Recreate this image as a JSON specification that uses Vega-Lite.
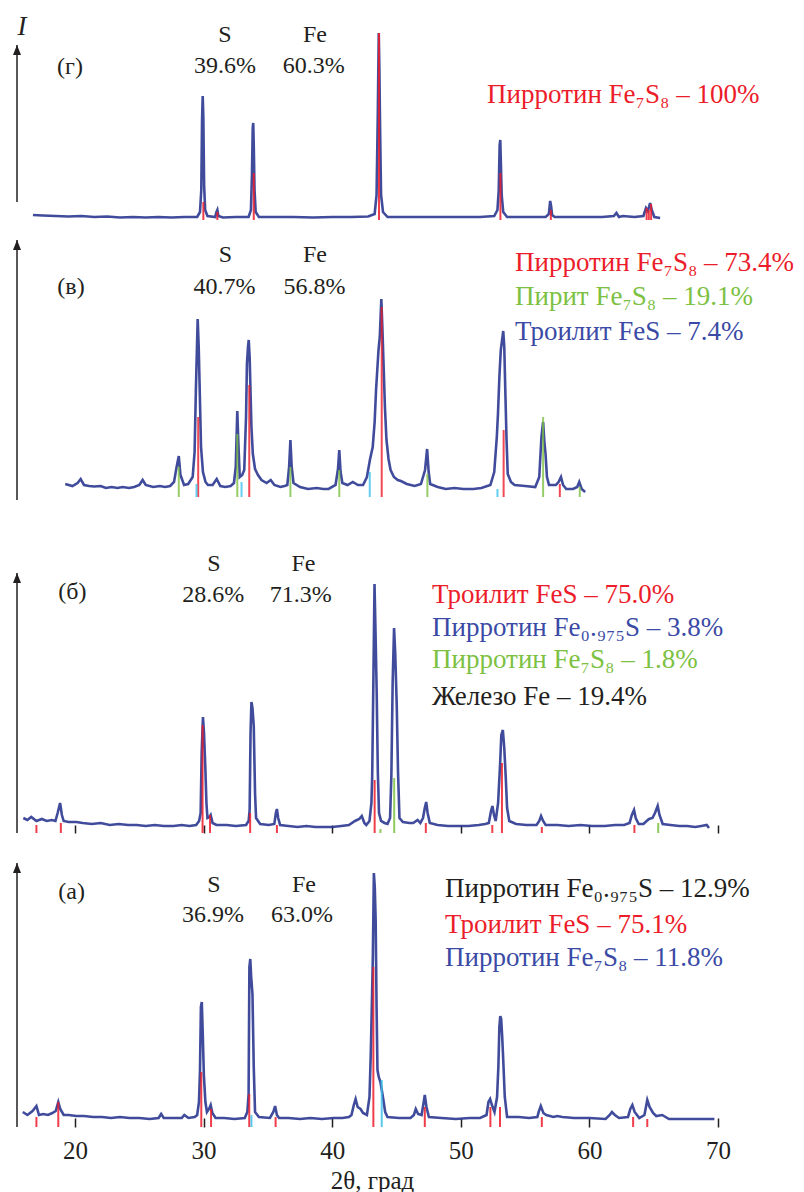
{
  "$schema": "https://vega.github.io/schema/vega-lite/v6.json",
  "padding": 0,
  "spacing": 0,
  "bounds": "flush",
  "config": {"view": {"stroke": null}},
  "datasets": {
    "curves": [
      {"p":"g","x":16.73,"y":5},{"p":"g","x":17.5,"y":4.5},{"p":"g","x":18.5,"y":4},{"p":"g","x":19.5,"y":3.5},{"p":"g","x":20.5,"y":4},{"p":"g","x":21.5,"y":3},{"p":"g","x":22.5,"y":3.5},{"p":"g","x":23.5,"y":2.5},{"p":"g","x":24.5,"y":3},{"p":"g","x":25.5,"y":2.5},{"p":"g","x":26.5,"y":3},{"p":"g","x":27.5,"y":2.5},{"p":"g","x":28.5,"y":3},{"p":"g","x":29.5,"y":3},{"p":"g","x":29.72,"y":8},{"p":"g","x":29.82,"y":30},{"p":"g","x":29.88,"y":100},{"p":"g","x":29.93,"y":124},{"p":"g","x":29.98,"y":103},{"p":"g","x":30.04,"y":35},{"p":"g","x":30.12,"y":10},{"p":"g","x":30.3,"y":4},{"p":"g","x":30.9,"y":3},{"p":"g","x":31.0,"y":8},{"p":"g","x":31.07,"y":10},{"p":"g","x":31.15,"y":4},{"p":"g","x":31.5,"y":2.5},{"p":"g","x":32.5,"y":3},{"p":"g","x":33.5,"y":3},{"p":"g","x":33.68,"y":10},{"p":"g","x":33.76,"y":45},{"p":"g","x":33.82,"y":92},{"p":"g","x":33.86,"y":97},{"p":"g","x":33.9,"y":75},{"p":"g","x":33.96,"y":30},{"p":"g","x":34.05,"y":8},{"p":"g","x":34.3,"y":3},{"p":"g","x":35.5,"y":3},{"p":"g","x":37,"y":3},{"p":"g","x":38.5,"y":2.5},{"p":"g","x":40,"y":3},{"p":"g","x":41.5,"y":3},{"p":"g","x":42.8,"y":3.5},{"p":"g","x":43.3,"y":6},{"p":"g","x":43.45,"y":25},{"p":"g","x":43.55,"y":110},{"p":"g","x":43.62,"y":187},{"p":"g","x":43.67,"y":150},{"p":"g","x":43.72,"y":95},{"p":"g","x":43.8,"y":25},{"p":"g","x":43.95,"y":8},{"p":"g","x":44.3,"y":3},{"p":"g","x":45.5,"y":3},{"p":"g","x":47,"y":3},{"p":"g","x":48.5,"y":3},{"p":"g","x":50,"y":3},{"p":"g","x":51.5,"y":3},{"p":"g","x":52.6,"y":4},{"p":"g","x":52.85,"y":10},{"p":"g","x":52.95,"y":30},{"p":"g","x":53.02,"y":75},{"p":"g","x":53.07,"y":80},{"p":"g","x":53.12,"y":55},{"p":"g","x":53.18,"y":25},{"p":"g","x":53.3,"y":8},{"p":"g","x":53.6,"y":3},{"p":"g","x":55,"y":3},{"p":"g","x":56.6,"y":3},{"p":"g","x":56.85,"y":6},{"p":"g","x":56.95,"y":19},{"p":"g","x":57.02,"y":14},{"p":"g","x":57.1,"y":5},{"p":"g","x":57.3,"y":3},{"p":"g","x":59,"y":3},{"p":"g","x":61,"y":3},{"p":"g","x":61.9,"y":4},{"p":"g","x":62.1,"y":7},{"p":"g","x":62.3,"y":3},{"p":"g","x":62.6,"y":4},{"p":"g","x":63.5,"y":3},{"p":"g","x":64.2,"y":4},{"p":"g","x":64.4,"y":12},{"p":"g","x":64.55,"y":9},{"p":"g","x":64.72,"y":17},{"p":"g","x":64.85,"y":10},{"p":"g","x":65.05,"y":3},{"p":"g","x":65.5,"y":2},

      {"p":"v","x":19.24,"y":13},{"p":"v","x":19.8,"y":11},{"p":"v","x":20.2,"y":14},{"p":"v","x":20.44,"y":18},{"p":"v","x":20.7,"y":12},{"p":"v","x":21.1,"y":11},{"p":"v","x":21.5,"y":10.5},{"p":"v","x":22.0,"y":11},{"p":"v","x":22.4,"y":9},{"p":"v","x":22.85,"y":10},{"p":"v","x":23.3,"y":9},{"p":"v","x":23.7,"y":10},{"p":"v","x":24.2,"y":9},{"p":"v","x":24.6,"y":10},{"p":"v","x":25.0,"y":12},{"p":"v","x":25.26,"y":17},{"p":"v","x":25.5,"y":12},{"p":"v","x":26.07,"y":10},{"p":"v","x":26.6,"y":11},{"p":"v","x":27.0,"y":10},{"p":"v","x":27.4,"y":11},{"p":"v","x":27.7,"y":15},{"p":"v","x":27.9,"y":30},{"p":"v","x":28.07,"y":41},{"p":"v","x":28.2,"y":22},{"p":"v","x":28.48,"y":12},{"p":"v","x":28.8,"y":13},{"p":"v","x":29.15,"y":20},{"p":"v","x":29.3,"y":45},{"p":"v","x":29.4,"y":107},{"p":"v","x":29.54,"y":178},{"p":"v","x":29.62,"y":150},{"p":"v","x":29.68,"y":117},{"p":"v","x":29.8,"y":50},{"p":"v","x":29.95,"y":25},{"p":"v","x":30.15,"y":15},{"p":"v","x":30.34,"y":12},{"p":"v","x":30.7,"y":12},{"p":"v","x":31.02,"y":18},{"p":"v","x":31.3,"y":11},{"p":"v","x":31.69,"y":10},{"p":"v","x":32.1,"y":11},{"p":"v","x":32.36,"y":14},{"p":"v","x":32.5,"y":30},{"p":"v","x":32.62,"y":86},{"p":"v","x":32.7,"y":55},{"p":"v","x":32.81,"y":20},{"p":"v","x":33.0,"y":22},{"p":"v","x":33.16,"y":27},{"p":"v","x":33.3,"y":80},{"p":"v","x":33.37,"y":133},{"p":"v","x":33.45,"y":150},{"p":"v","x":33.51,"y":157},{"p":"v","x":33.58,"y":140},{"p":"v","x":33.64,"y":110},{"p":"v","x":33.72,"y":70},{"p":"v","x":33.83,"y":43},{"p":"v","x":34.0,"y":28},{"p":"v","x":34.23,"y":22},{"p":"v","x":34.5,"y":17},{"p":"v","x":34.9,"y":14},{"p":"v","x":35.22,"y":17},{"p":"v","x":35.5,"y":12},{"p":"v","x":35.97,"y":10},{"p":"v","x":36.3,"y":11},{"p":"v","x":36.51,"y":12},{"p":"v","x":36.65,"y":30},{"p":"v","x":36.75,"y":57},{"p":"v","x":36.85,"y":30},{"p":"v","x":36.99,"y":14},{"p":"v","x":37.5,"y":10},{"p":"v","x":38.12,"y":8},{"p":"v","x":38.8,"y":9},{"p":"v","x":39.3,"y":8},{"p":"v","x":39.72,"y":8},{"p":"v","x":40.26,"y":12},{"p":"v","x":40.45,"y":28},{"p":"v","x":40.55,"y":47},{"p":"v","x":40.65,"y":25},{"p":"v","x":40.79,"y":14},{"p":"v","x":41.2,"y":12},{"p":"v","x":41.6,"y":15},{"p":"v","x":42.0,"y":12},{"p":"v","x":42.4,"y":12},{"p":"v","x":42.7,"y":20},{"p":"v","x":42.93,"y":37},{"p":"v","x":43.15,"y":50},{"p":"v","x":43.3,"y":75},{"p":"v","x":43.41,"y":107},{"p":"v","x":43.6,"y":147},{"p":"v","x":43.7,"y":160},{"p":"v","x":43.82,"y":198},{"p":"v","x":43.9,"y":170},{"p":"v","x":44.0,"y":130},{"p":"v","x":44.1,"y":90},{"p":"v","x":44.22,"y":57},{"p":"v","x":44.38,"y":38},{"p":"v","x":44.54,"y":27},{"p":"v","x":44.8,"y":20},{"p":"v","x":45.1,"y":17},{"p":"v","x":45.34,"y":16},{"p":"v","x":45.8,"y":13},{"p":"v","x":46.41,"y":11},{"p":"v","x":46.9,"y":13},{"p":"v","x":47.22,"y":27},{"p":"v","x":47.38,"y":48},{"p":"v","x":47.5,"y":25},{"p":"v","x":47.62,"y":13},{"p":"v","x":48.2,"y":10},{"p":"v","x":48.83,"y":8},{"p":"v","x":49.5,"y":9},{"p":"v","x":50.2,"y":8},{"p":"v","x":50.97,"y":8},{"p":"v","x":51.6,"y":9},{"p":"v","x":52.3,"y":12},{"p":"v","x":52.6,"y":25},{"p":"v","x":52.8,"y":60},{"p":"v","x":52.89,"y":83},{"p":"v","x":53.0,"y":120},{"p":"v","x":53.11,"y":147},{"p":"v","x":53.3,"y":166},{"p":"v","x":53.38,"y":150},{"p":"v","x":53.46,"y":107},{"p":"v","x":53.55,"y":60},{"p":"v","x":53.65,"y":23},{"p":"v","x":53.9,"y":15},{"p":"v","x":54.18,"y":12},{"p":"v","x":55.0,"y":11},{"p":"v","x":55.79,"y":10},{"p":"v","x":56.1,"y":20},{"p":"v","x":56.27,"y":60},{"p":"v","x":56.4,"y":75},{"p":"v","x":56.5,"y":55},{"p":"v","x":56.59,"y":43},{"p":"v","x":56.7,"y":20},{"p":"v","x":56.86,"y":12},{"p":"v","x":57.39,"y":12},{"p":"v","x":57.6,"y":15},{"p":"v","x":57.79,"y":20},{"p":"v","x":57.95,"y":12},{"p":"v","x":58.2,"y":8},{"p":"v","x":58.73,"y":8},{"p":"v","x":59.05,"y":10},{"p":"v","x":59.21,"y":15},{"p":"v","x":59.4,"y":8},{"p":"v","x":59.67,"y":5},

      {"p":"b","x":15.98,"y":15},{"p":"b","x":16.3,"y":13},{"p":"b","x":16.6,"y":16},{"p":"b","x":17.0,"y":12},{"p":"b","x":17.42,"y":14},{"p":"b","x":17.8,"y":12},{"p":"b","x":18.2,"y":13},{"p":"b","x":18.48,"y":12},{"p":"b","x":18.65,"y":20},{"p":"b","x":18.84,"y":30},{"p":"b","x":18.98,"y":18},{"p":"b","x":19.12,"y":12},{"p":"b","x":19.5,"y":11},{"p":"b","x":20.1,"y":11},{"p":"b","x":20.6,"y":10},{"p":"b","x":21.3,"y":9},{"p":"b","x":22.0,"y":10},{"p":"b","x":22.7,"y":8},{"p":"b","x":23.4,"y":9},{"p":"b","x":24.13,"y":8},{"p":"b","x":24.8,"y":8},{"p":"b","x":25.5,"y":7},{"p":"b","x":26.2,"y":8},{"p":"b","x":26.9,"y":7},{"p":"b","x":27.66,"y":7},{"p":"b","x":28.3,"y":8},{"p":"b","x":28.9,"y":7},{"p":"b","x":29.42,"y":8},{"p":"b","x":29.65,"y":12},{"p":"b","x":29.77,"y":20},{"p":"b","x":29.85,"y":80},{"p":"b","x":29.95,"y":116},{"p":"b","x":30.03,"y":100},{"p":"b","x":30.13,"y":67},{"p":"b","x":30.22,"y":30},{"p":"b","x":30.3,"y":15},{"p":"b","x":30.45,"y":16},{"p":"b","x":30.55,"y":18},{"p":"b","x":30.7,"y":10},{"p":"b","x":31.0,"y":8},{"p":"b","x":31.8,"y":8},{"p":"b","x":32.5,"y":7},{"p":"b","x":33.3,"y":8},{"p":"b","x":33.5,"y":12},{"p":"b","x":33.58,"y":23},{"p":"b","x":33.65,"y":100},{"p":"b","x":33.72,"y":131},{"p":"b","x":33.8,"y":125},{"p":"b","x":33.9,"y":107},{"p":"b","x":34.0,"y":40},{"p":"b","x":34.08,"y":15},{"p":"b","x":34.4,"y":9},{"p":"b","x":35.07,"y":8},{"p":"b","x":35.5,"y":9},{"p":"b","x":35.62,"y":20},{"p":"b","x":35.7,"y":24},{"p":"b","x":35.8,"y":15},{"p":"b","x":35.95,"y":8},{"p":"b","x":36.6,"y":7},{"p":"b","x":37.3,"y":6},{"p":"b","x":38.0,"y":7},{"p":"b","x":38.7,"y":6},{"p":"b","x":39.3,"y":6},{"p":"b","x":40.0,"y":6},{"p":"b","x":40.7,"y":7},{"p":"b","x":41.3,"y":8},{"p":"b","x":41.77,"y":12},{"p":"b","x":42.1,"y":14},{"p":"b","x":42.3,"y":17},{"p":"b","x":42.5,"y":10},{"p":"b","x":42.65,"y":8},{"p":"b","x":42.9,"y":12},{"p":"b","x":43.05,"y":30},{"p":"b","x":43.11,"y":57},{"p":"b","x":43.2,"y":150},{"p":"b","x":43.29,"y":249},{"p":"b","x":43.37,"y":200},{"p":"b","x":43.46,"y":140},{"p":"b","x":43.55,"y":60},{"p":"b","x":43.64,"y":20},{"p":"b","x":43.8,"y":12},{"p":"b","x":44.07,"y":10},{"p":"b","x":44.3,"y":9},{"p":"b","x":44.5,"y":15},{"p":"b","x":44.6,"y":57},{"p":"b","x":44.7,"y":150},{"p":"b","x":44.81,"y":205},{"p":"b","x":44.9,"y":180},{"p":"b","x":45.02,"y":127},{"p":"b","x":45.12,"y":60},{"p":"b","x":45.23,"y":15},{"p":"b","x":45.5,"y":11},{"p":"b","x":46.0,"y":10},{"p":"b","x":46.3,"y":10},{"p":"b","x":46.64,"y":13},{"p":"b","x":46.85,"y":10},{"p":"b","x":47.06,"y":15},{"p":"b","x":47.2,"y":25},{"p":"b","x":47.31,"y":31},{"p":"b","x":47.42,"y":20},{"p":"b","x":47.59,"y":10},{"p":"b","x":48.2,"y":8},{"p":"b","x":49.0,"y":7},{"p":"b","x":49.8,"y":7},{"p":"b","x":50.59,"y":7},{"p":"b","x":51.4,"y":8},{"p":"b","x":51.9,"y":9},{"p":"b","x":52.18,"y":10},{"p":"b","x":52.35,"y":22},{"p":"b","x":52.46,"y":27},{"p":"b","x":52.58,"y":18},{"p":"b","x":52.71,"y":12},{"p":"b","x":52.9,"y":30},{"p":"b","x":53.06,"y":70},{"p":"b","x":53.15,"y":98},{"p":"b","x":53.27,"y":103},{"p":"b","x":53.38,"y":85},{"p":"b","x":53.49,"y":57},{"p":"b","x":53.6,"y":25},{"p":"b","x":53.77,"y":12},{"p":"b","x":54.3,"y":9},{"p":"b","x":55.1,"y":8},{"p":"b","x":55.89,"y":8},{"p":"b","x":56.1,"y":12},{"p":"b","x":56.24,"y":17},{"p":"b","x":56.4,"y":12},{"p":"b","x":56.6,"y":8},{"p":"b","x":57.5,"y":8},{"p":"b","x":58.4,"y":7},{"p":"b","x":59.3,"y":8},{"p":"b","x":60.2,"y":7},{"p":"b","x":61.18,"y":7},{"p":"b","x":62.0,"y":8},{"p":"b","x":62.7,"y":8},{"p":"b","x":63.12,"y":10},{"p":"b","x":63.3,"y":18},{"p":"b","x":63.47,"y":23},{"p":"b","x":63.6,"y":15},{"p":"b","x":63.83,"y":9},{"p":"b","x":64.2,"y":9},{"p":"b","x":64.45,"y":12},{"p":"b","x":64.64,"y":14},{"p":"b","x":64.9,"y":15},{"p":"b","x":65.1,"y":20},{"p":"b","x":65.31,"y":27},{"p":"b","x":65.45,"y":18},{"p":"b","x":65.7,"y":9},{"p":"b","x":66.3,"y":8},{"p":"b","x":67.0,"y":7},{"p":"b","x":67.6,"y":7},{"p":"b","x":68.23,"y":6},{"p":"b","x":68.7,"y":7},{"p":"b","x":69.12,"y":8},{"p":"b","x":69.3,"y":5},

      {"p":"a","x":15.94,"y":15},{"p":"a","x":16.3,"y":12},{"p":"a","x":16.7,"y":16},{"p":"a","x":17.0,"y":21},{"p":"a","x":17.2,"y":12},{"p":"a","x":17.53,"y":13},{"p":"a","x":17.9,"y":12},{"p":"a","x":18.24,"y":14},{"p":"a","x":18.5,"y":16},{"p":"a","x":18.7,"y":25},{"p":"a","x":18.85,"y":18},{"p":"a","x":19.12,"y":12},{"p":"a","x":19.5,"y":12},{"p":"a","x":20.1,"y":11},{"p":"a","x":20.7,"y":11},{"p":"a","x":21.4,"y":10},{"p":"a","x":22.1,"y":10},{"p":"a","x":22.8,"y":9},{"p":"a","x":23.5,"y":10},{"p":"a","x":24.23,"y":9},{"p":"a","x":25.0,"y":9},{"p":"a","x":25.8,"y":8},{"p":"a","x":26.5,"y":9},{"p":"a","x":26.7,"y":13},{"p":"a","x":26.9,"y":9},{"p":"a","x":27.6,"y":9},{"p":"a","x":28.3,"y":9},{"p":"a","x":28.5,"y":12},{"p":"a","x":28.82,"y":9},{"p":"a","x":29.3,"y":10},{"p":"a","x":29.5,"y":12},{"p":"a","x":29.64,"y":25},{"p":"a","x":29.72,"y":57},{"p":"a","x":29.79,"y":120},{"p":"a","x":29.86,"y":125},{"p":"a","x":29.93,"y":95},{"p":"a","x":30.02,"y":52},{"p":"a","x":30.14,"y":25},{"p":"a","x":30.26,"y":15},{"p":"a","x":30.42,"y":18},{"p":"a","x":30.55,"y":22},{"p":"a","x":30.68,"y":14},{"p":"a","x":30.93,"y":9},{"p":"a","x":31.6,"y":9},{"p":"a","x":32.4,"y":8},{"p":"a","x":33.2,"y":9},{"p":"a","x":33.4,"y":15},{"p":"a","x":33.5,"y":33},{"p":"a","x":33.56,"y":160},{"p":"a","x":33.63,"y":168},{"p":"a","x":33.7,"y":150},{"p":"a","x":33.8,"y":133},{"p":"a","x":33.9,"y":60},{"p":"a","x":34.0,"y":15},{"p":"a","x":34.3,"y":10},{"p":"a","x":35.16,"y":9},{"p":"a","x":35.42,"y":15},{"p":"a","x":35.56,"y":21},{"p":"a","x":35.7,"y":12},{"p":"a","x":35.87,"y":9},{"p":"a","x":36.6,"y":9},{"p":"a","x":37.5,"y":8},{"p":"a","x":38.3,"y":9},{"p":"a","x":39.2,"y":8},{"p":"a","x":40.1,"y":9},{"p":"a","x":40.8,"y":9},{"p":"a","x":41.3,"y":10},{"p":"a","x":41.5,"y":12},{"p":"a","x":41.68,"y":22},{"p":"a","x":41.82,"y":28},{"p":"a","x":41.98,"y":20},{"p":"a","x":42.2,"y":18},{"p":"a","x":42.4,"y":14},{"p":"a","x":42.7,"y":12},{"p":"a","x":42.9,"y":30},{"p":"a","x":43.0,"y":73},{"p":"a","x":43.08,"y":120},{"p":"a","x":43.16,"y":170},{"p":"a","x":43.24,"y":254},{"p":"a","x":43.31,"y":240},{"p":"a","x":43.38,"y":207},{"p":"a","x":43.45,"y":120},{"p":"a","x":43.52,"y":57},{"p":"a","x":43.62,"y":50},{"p":"a","x":43.75,"y":45},{"p":"a","x":43.88,"y":35},{"p":"a","x":43.98,"y":27},{"p":"a","x":44.12,"y":15},{"p":"a","x":44.3,"y":10},{"p":"a","x":45.2,"y":9},{"p":"a","x":46.09,"y":9},{"p":"a","x":46.35,"y":12},{"p":"a","x":46.5,"y":18},{"p":"a","x":46.68,"y":13},{"p":"a","x":46.95,"y":12},{"p":"a","x":47.08,"y":22},{"p":"a","x":47.2,"y":32},{"p":"a","x":47.33,"y":20},{"p":"a","x":47.52,"y":10},{"p":"a","x":48.5,"y":9},{"p":"a","x":49.6,"y":8},{"p":"a","x":50.68,"y":9},{"p":"a","x":51.5,"y":9},{"p":"a","x":52.0,"y":12},{"p":"a","x":52.15,"y":25},{"p":"a","x":52.28,"y":28},{"p":"a","x":52.42,"y":22},{"p":"a","x":52.62,"y":15},{"p":"a","x":52.82,"y":30},{"p":"a","x":52.92,"y":60},{"p":"a","x":53.0,"y":100},{"p":"a","x":53.07,"y":111},{"p":"a","x":53.14,"y":108},{"p":"a","x":53.22,"y":90},{"p":"a","x":53.3,"y":67},{"p":"a","x":53.42,"y":30},{"p":"a","x":53.6,"y":10},{"p":"a","x":54.5,"y":10},{"p":"a","x":55.3,"y":9},{"p":"a","x":55.95,"y":10},{"p":"a","x":56.08,"y":16},{"p":"a","x":56.22,"y":21},{"p":"a","x":56.42,"y":14},{"p":"a","x":56.65,"y":12},{"p":"a","x":57.2,"y":10},{"p":"a","x":57.5,"y":11},{"p":"a","x":57.9,"y":10},{"p":"a","x":58.8,"y":9},{"p":"a","x":60.0,"y":9},{"p":"a","x":61.26,"y":8},{"p":"a","x":61.58,"y":12},{"p":"a","x":61.75,"y":15},{"p":"a","x":61.98,"y":12},{"p":"a","x":62.3,"y":9},{"p":"a","x":63.0,"y":10},{"p":"a","x":63.18,"y":18},{"p":"a","x":63.34,"y":22},{"p":"a","x":63.52,"y":15},{"p":"a","x":63.88,"y":9},{"p":"a","x":64.28,"y":12},{"p":"a","x":64.5,"y":27},{"p":"a","x":64.68,"y":20},{"p":"a","x":64.95,"y":14},{"p":"a","x":65.2,"y":11},{"p":"a","x":65.66,"y":12},{"p":"a","x":66.19,"y":8},{"p":"a","x":67.0,"y":8},{"p":"a","x":67.8,"y":8},{"p":"a","x":68.6,"y":8},{"p":"a","x":69.2,"y":8},{"p":"a","x":69.72,"y":8}
    ],
    "sticks": [
      {"p":"g","x":29.98,"y":18,"c":"r"},{"p":"g","x":31.07,"y":8,"c":"r"},{"p":"g","x":33.9,"y":47,"c":"r"},{"p":"g","x":43.64,"y":187,"c":"r"},{"p":"g","x":53.08,"y":47,"c":"r"},{"p":"g","x":57.0,"y":10,"c":"r"},{"p":"g","x":64.45,"y":12,"c":"r"},{"p":"g","x":64.62,"y":10,"c":"r"},{"p":"g","x":64.8,"y":16,"c":"r"},
      {"p":"v","x":29.58,"y":80,"c":"r"},{"p":"v","x":33.55,"y":112,"c":"r"},{"p":"v","x":43.85,"y":190,"c":"r"},{"p":"v","x":53.33,"y":67,"c":"r"},{"p":"v","x":57.7,"y":13,"c":"r"},
      {"p":"v","x":28.07,"y":30,"c":"g"},{"p":"v","x":32.62,"y":63,"c":"g"},{"p":"v","x":36.75,"y":30,"c":"g"},{"p":"v","x":40.55,"y":27,"c":"g"},{"p":"v","x":47.4,"y":23,"c":"g"},{"p":"v","x":56.4,"y":80,"c":"g"},{"p":"v","x":59.25,"y":10,"c":"g"},
      {"p":"v","x":29.45,"y":13,"c":"c"},{"p":"v","x":32.95,"y":15,"c":"c"},{"p":"v","x":42.92,"y":25,"c":"c"},{"p":"v","x":52.85,"y":8,"c":"c"},
      {"p":"b","x":17.0,"y":8,"c":"r"},{"p":"b","x":18.9,"y":10,"c":"r"},{"p":"b","x":29.92,"y":108,"c":"r"},{"p":"b","x":30.5,"y":18,"c":"r"},{"p":"b","x":33.62,"y":20,"c":"r"},{"p":"b","x":35.7,"y":8,"c":"r"},{"p":"b","x":43.3,"y":53,"c":"r"},{"p":"b","x":47.28,"y":10,"c":"r"},{"p":"b","x":52.45,"y":8,"c":"r"},{"p":"b","x":53.2,"y":70,"c":"r"},{"p":"b","x":56.3,"y":6,"c":"r"},{"p":"b","x":63.5,"y":8,"c":"r"},
      {"p":"b","x":44.82,"y":55,"c":"g"},{"p":"b","x":43.75,"y":4,"c":"g"},{"p":"b","x":65.35,"y":10,"c":"g"},
      {"p":"a","x":17.0,"y":10,"c":"r"},{"p":"a","x":18.7,"y":25,"c":"r"},{"p":"a","x":29.82,"y":55,"c":"r"},{"p":"a","x":30.58,"y":18,"c":"r"},{"p":"a","x":33.55,"y":33,"c":"r"},{"p":"a","x":35.6,"y":10,"c":"r"},{"p":"a","x":43.2,"y":160,"c":"r"},{"p":"a","x":47.2,"y":20,"c":"r"},{"p":"a","x":52.3,"y":20,"c":"r"},{"p":"a","x":53.05,"y":20,"c":"r"},{"p":"a","x":56.3,"y":10,"c":"r"},{"p":"a","x":63.4,"y":10,"c":"r"},{"p":"a","x":64.5,"y":8,"c":"r"},
      {"p":"a","x":43.85,"y":47,"c":"c"},{"p":"a","x":33.72,"y":12,"c":"c"}
    ],
    "xaxes": [
      {"p":"g","x":16.74,"x2":65.7},
      {"p":"v","x":19.5,"x2":59.7},
      {"p":"b","x":16.1,"x2":70.0},
      {"p":"a","x":16.1,"x2":70.0}
    ],
    "yaxes": [
      {"p":"g","x":15.49,"y0":18,"y1":175},
      {"p":"v","x":15.49,"y0":-3,"y1":257},
      {"p":"b","x":15.49,"y0":0,"y1":260},
      {"p":"a","x":15.49,"y0":0,"y1":264}
    ],
    "notes": [
      {"p":"g","x":19.61,"y":153,"t":"(г)"},
      {"p":"g","x":31.66,"y":185,"t":"S"},
      {"p":"g","x":31.66,"y":154,"t":"39.6%"},
      {"p":"g","x":38.66,"y":185,"t":"Fe"},
      {"p":"g","x":38.56,"y":154,"t":"60.3%"},
      {"p":"v","x":19.69,"y":210,"t":"(в)"},
      {"p":"v","x":31.7,"y":242,"t":"S"},
      {"p":"v","x":31.63,"y":210,"t":"40.7%"},
      {"p":"v","x":38.66,"y":242,"t":"Fe"},
      {"p":"v","x":38.62,"y":210,"t":"56.8%"},
      {"p":"b","x":19.8,"y":241,"t":"(б)"},
      {"p":"b","x":30.8,"y":269,"t":"S"},
      {"p":"b","x":30.76,"y":238,"t":"28.6%"},
      {"p":"b","x":37.77,"y":269,"t":"Fe"},
      {"p":"b","x":37.56,"y":238,"t":"71.3%"},
      {"p":"a","x":19.74,"y":235,"t":"(а)"},
      {"p":"a","x":30.8,"y":242,"t":"S"},
      {"p":"a","x":30.73,"y":212,"t":"36.9%"},
      {"p":"a","x":37.8,"y":242,"t":"Fe"},
      {"p":"a","x":37.65,"y":212,"t":"63.0%"}
    ],
    "phases": [
      {"p":"g","x":52.04,"y":125,"t":"Пирротин Fe₇S₈ – 100%","c":"r"},
      {"p":"v","x":54.21,"y":234,"t":"Пирротин Fe₇S₈ – 73.4%","c":"r"},
      {"p":"v","x":54.21,"y":200,"t":"Пирит Fe₇S₈ – 19.1%","c":"g"},
      {"p":"v","x":54.21,"y":165,"t":"Троилит FeS – 7.4%","c":"b"},
      {"p":"b","x":47.76,"y":238,"t":"Троилит FeS – 75.0%","c":"r"},
      {"p":"b","x":47.76,"y":205,"t":"Пирротин Fe₀.₉₇₅S – 3.8%","c":"b"},
      {"p":"b","x":47.76,"y":173,"t":"Пирротин Fe₇S₈ – 1.8%","c":"g"},
      {"p":"b","x":47.76,"y":136,"t":"Железо Fe – 19.4%","c":"k"},
      {"p":"a","x":48.77,"y":238,"t":"Пирротин Fe₀.₉₇₅S – 12.9%","c":"k"},
      {"p":"a","x":48.77,"y":202,"t":"Троилит FeS – 75.1%","c":"r"},
      {"p":"a","x":48.77,"y":169,"t":"Пирротин Fe₇S₈ – 11.8%","c":"b"}
    ],
    "ylabel": [
      {"p":"g","x":15.88,"y":193,"t":"I"}
    ]
  },
  "vconcat": [
    {
      "width": 804, "height": 240,
      "encoding": {
        "x": {"field":"x","type":"quantitative","scale":{"domain":[14.168,76.687],"nice":false,"zero":false},"axis":null},
        "y": {"field":"y","type":"quantitative","scale":{"domain":[-20,220],"nice":false,"zero":false},"axis":null}
      },
      "layer": [
        {"data":{"name":"xaxes"},"transform":[{"filter":"datum.p == 'g'"}],"mark":{"type":"rule","color":"#3a3a3a","strokeWidth":1.6},"encoding":{"x2":{"field":"x2"},"y":{"datum":0}}},
        {"data":{"name":"yaxes"},"transform":[{"filter":"datum.p == 'g'"}],"mark":{"type":"rule","color":"#231f20","strokeWidth":1.5},"encoding":{"y":{"field":"y1","type":"quantitative","scale":{"domain":[-20,220],"nice":false,"zero":false},"axis":null},"y2":{"field":"y0"}}},
        {"data":{"name":"yaxes"},"transform":[{"filter":"datum.p == 'g'"}],"mark":{"type":"point","shape":"M0,0L0.4,1L-0.4,1Z","filled":true,"size":400,"color":"#231f20","opacity":1},"encoding":{"y":{"field":"y1","type":"quantitative","scale":{"domain":[-20,220],"nice":false,"zero":false},"axis":null}}},
        {"data":{"name":"curves"},"transform":[{"filter":"datum.p == 'g'"}],"mark":{"type":"line","color":"#2b3990","strokeWidth":2.6,"opacity":0.9}},
        {"data":{"name":"sticks"},"transform":[{"filter":"datum.p == 'g'"}],"mark":{"type":"rule","strokeWidth":2,"opacity":0.85},"encoding":{"y2":{"datum":0},"color":{"field":"c","type":"nominal","scale":{"domain":["r","g","b","c","k"],"range":["#ec1c2a","#7cc142","#3a4aa5","#3dc0ec","#231f20"]},"legend":null}}},
        {"data":{"name":"notes"},"transform":[{"filter":"datum.p == 'g'"}],"mark":{"type":"text","font":"Liberation Serif, Times New Roman, serif","fontSize":24,"align":"center","baseline":"middle","color":"#231f20"},"encoding":{"text":{"field":"t"}}},
        {"data":{"name":"ylabel"},"transform":[{"filter":"datum.p == 'g'"}],"mark":{"type":"text","font":"Liberation Serif, Times New Roman, serif","fontSize":27,"fontStyle":"italic","align":"center","baseline":"middle","color":"#231f20"},"encoding":{"text":{"field":"t"}}},
        {"data":{"name":"phases"},"transform":[{"filter":"datum.p == 'g'"}],"mark":{"type":"text","font":"Liberation Serif, Times New Roman, serif","fontSize":27,"align":"left","baseline":"middle"},"encoding":{"text":{"field":"t"},"color":{"field":"c","type":"nominal","scale":{"domain":["r","g","b","c","k"],"range":["#ec1c2a","#7cc142","#3a4aa5","#3dc0ec","#231f20"]},"legend":null}}}
      ]
    },
    {
      "width": 804, "height": 333,
      "encoding": {
        "x": {"field":"x","type":"quantitative","scale":{"domain":[14.168,76.687],"nice":false,"zero":false},"axis":null},
        "y": {"field":"y","type":"quantitative","scale":{"domain":[-76,257],"nice":false,"zero":false},"axis":null}
      },
      "layer": [
        {"data":{"name":"xaxes"},"transform":[{"filter":"datum.p == 'v'"}],"mark":{"type":"rule","color":"#231f20","strokeWidth":1.6},"encoding":{"x2":{"field":"x2"},"y":{"datum":0}}},
        {"data":{"name":"yaxes"},"transform":[{"filter":"datum.p == 'v'"}],"mark":{"type":"rule","color":"#231f20","strokeWidth":1.5},"encoding":{"y":{"field":"y1","type":"quantitative","scale":{"domain":[-76,257],"nice":false,"zero":false},"axis":null},"y2":{"field":"y0"}}},
        {"data":{"name":"yaxes"},"transform":[{"filter":"datum.p == 'v'"}],"mark":{"type":"point","shape":"M0,0L0.4,1L-0.4,1Z","filled":true,"size":400,"color":"#231f20","opacity":1},"encoding":{"y":{"field":"y1","type":"quantitative","scale":{"domain":[-76,257],"nice":false,"zero":false},"axis":null}}},
        {"data":{"name":"curves"},"transform":[{"filter":"datum.p == 'v'"}],"mark":{"type":"line","color":"#2b3990","strokeWidth":2.6,"opacity":0.9}},
        {"data":{"name":"sticks"},"transform":[{"filter":"datum.p == 'v'"}],"mark":{"type":"rule","strokeWidth":2,"opacity":0.8},"encoding":{"y2":{"datum":0},"color":{"field":"c","type":"nominal","scale":{"domain":["r","g","b","c","k"],"range":["#ec1c2a","#7cc142","#3a4aa5","#3dc0ec","#231f20"]},"legend":null}}},
        {"data":{"name":"notes"},"transform":[{"filter":"datum.p == 'v'"}],"mark":{"type":"text","font":"Liberation Serif, Times New Roman, serif","fontSize":24,"align":"center","baseline":"middle","color":"#231f20"},"encoding":{"text":{"field":"t"}}},
        {"data":{"name":"phases"},"transform":[{"filter":"datum.p == 'v'"}],"mark":{"type":"text","font":"Liberation Serif, Times New Roman, serif","fontSize":27,"align":"left","baseline":"middle"},"encoding":{"text":{"field":"t"},"color":{"field":"c","type":"nominal","scale":{"domain":["r","g","b","c","k"],"range":["#ec1c2a","#7cc142","#3a4aa5","#3dc0ec","#231f20"]},"legend":null}}}
      ]
    },
    {
      "width": 804, "height": 290,
      "encoding": {
        "x": {"field":"x","type":"quantitative","scale":{"domain":[14.168,76.687],"nice":false,"zero":false},"axis":{"values":[20,30,40,50,60,70],"domain":false,"grid":false,"labels":false,"title":null,"offset":-30,"tickSize":-8,"tickWidth":1.5,"tickColor":"#231f20"}},
        "y": {"field":"y","type":"quantitative","scale":{"domain":[-30,260],"nice":false,"zero":false},"axis":null}
      },
      "layer": [
        {"data":{"name":"xaxes"},"transform":[{"filter":"datum.p == 'b'"}],"mark":{"type":"rule","color":"#231f20","strokeWidth":1.6},"encoding":{"x2":{"field":"x2"},"y":{"datum":0}}},
        {"data":{"name":"yaxes"},"transform":[{"filter":"datum.p == 'b'"}],"mark":{"type":"rule","color":"#231f20","strokeWidth":1.5},"encoding":{"y":{"field":"y1","type":"quantitative","scale":{"domain":[-30,260],"nice":false,"zero":false},"axis":null},"y2":{"field":"y0"}}},
        {"data":{"name":"yaxes"},"transform":[{"filter":"datum.p == 'b'"}],"mark":{"type":"point","shape":"M0,0L0.4,1L-0.4,1Z","filled":true,"size":400,"color":"#231f20","opacity":1},"encoding":{"y":{"field":"y1","type":"quantitative","scale":{"domain":[-30,260],"nice":false,"zero":false},"axis":null}}},
        {"data":{"name":"curves"},"transform":[{"filter":"datum.p == 'b'"}],"mark":{"type":"line","color":"#2b3990","strokeWidth":2.6,"opacity":0.9}},
        {"data":{"name":"sticks"},"transform":[{"filter":"datum.p == 'b'"}],"mark":{"type":"rule","strokeWidth":2,"opacity":0.85},"encoding":{"y2":{"datum":0},"color":{"field":"c","type":"nominal","scale":{"domain":["r","g","b","c","k"],"range":["#ec1c2a","#7cc142","#3a4aa5","#3dc0ec","#231f20"]},"legend":null}}},
        {"data":{"name":"notes"},"transform":[{"filter":"datum.p == 'b'"}],"mark":{"type":"text","font":"Liberation Serif, Times New Roman, serif","fontSize":24,"align":"center","baseline":"middle","color":"#231f20"},"encoding":{"text":{"field":"t"}}},
        {"data":{"name":"phases"},"transform":[{"filter":"datum.p == 'b'"}],"mark":{"type":"text","font":"Liberation Serif, Times New Roman, serif","fontSize":27,"align":"left","baseline":"middle"},"encoding":{"text":{"field":"t"},"color":{"field":"c","type":"nominal","scale":{"domain":["r","g","b","c","k"],"range":["#ec1c2a","#7cc142","#3a4aa5","#3dc0ec","#231f20"]},"legend":null}}}
      ]
    },
    {
      "width": 804, "height": 264,
      "encoding": {
        "x": {"field":"x","type":"quantitative","scale":{"domain":[14.168,76.687],"nice":false,"zero":false},"axis":{"values":[20,30,40,50,60,70],"domain":false,"grid":false,"tickSize":-9,"tickWidth":1.5,"tickColor":"#231f20","labelPadding":20,"labelFont":"Liberation Serif, Times New Roman, serif","labelFontSize":25,"labelColor":"#231f20","title":"2θ, град","titleFont":"Liberation Serif, Times New Roman, serif","titleFontSize":25,"titleFontWeight":"normal","titleColor":"#231f20","titleX":372,"titleY":53,"titleAlign":"center","titleBaseline":"middle"}},
        "y": {"field":"y","type":"quantitative","scale":{"domain":[0,264],"nice":false,"zero":false},"axis":null}
      },
      "layer": [
        {"data":{"name":"xaxes"},"transform":[{"filter":"datum.p == 'a'"}],"mark":{"type":"rule","color":"#231f20","strokeWidth":1.6},"encoding":{"x2":{"field":"x2"},"y":{"datum":0}}},
        {"data":{"name":"yaxes"},"transform":[{"filter":"datum.p == 'a'"}],"mark":{"type":"rule","color":"#231f20","strokeWidth":1.5},"encoding":{"y":{"field":"y1","type":"quantitative","scale":{"domain":[0,264],"nice":false,"zero":false},"axis":null},"y2":{"field":"y0"}}},
        {"data":{"name":"yaxes"},"transform":[{"filter":"datum.p == 'a'"}],"mark":{"type":"point","shape":"M0,0L0.4,1L-0.4,1Z","filled":true,"size":400,"color":"#231f20","opacity":1},"encoding":{"y":{"field":"y1","type":"quantitative","scale":{"domain":[0,264],"nice":false,"zero":false},"axis":null}}},
        {"data":{"name":"curves"},"transform":[{"filter":"datum.p == 'a'"}],"mark":{"type":"line","color":"#2b3990","strokeWidth":2.6,"opacity":0.9}},
        {"data":{"name":"sticks"},"transform":[{"filter":"datum.p == 'a'"}],"mark":{"type":"rule","strokeWidth":2,"opacity":0.85},"encoding":{"y2":{"datum":0},"color":{"field":"c","type":"nominal","scale":{"domain":["r","g","b","c","k"],"range":["#ec1c2a","#7cc142","#3a4aa5","#3dc0ec","#231f20"]},"legend":null}}},
        {"data":{"name":"notes"},"transform":[{"filter":"datum.p == 'a'"}],"mark":{"type":"text","font":"Liberation Serif, Times New Roman, serif","fontSize":24,"align":"center","baseline":"middle","color":"#231f20"},"encoding":{"text":{"field":"t"}}},
        {"data":{"name":"phases"},"transform":[{"filter":"datum.p == 'a'"}],"mark":{"type":"text","font":"Liberation Serif, Times New Roman, serif","fontSize":27,"align":"left","baseline":"middle"},"encoding":{"text":{"field":"t"},"color":{"field":"c","type":"nominal","scale":{"domain":["r","g","b","c","k"],"range":["#ec1c2a","#7cc142","#3a4aa5","#3dc0ec","#231f20"]},"legend":null}}}
      ]
    }
  ]
}
